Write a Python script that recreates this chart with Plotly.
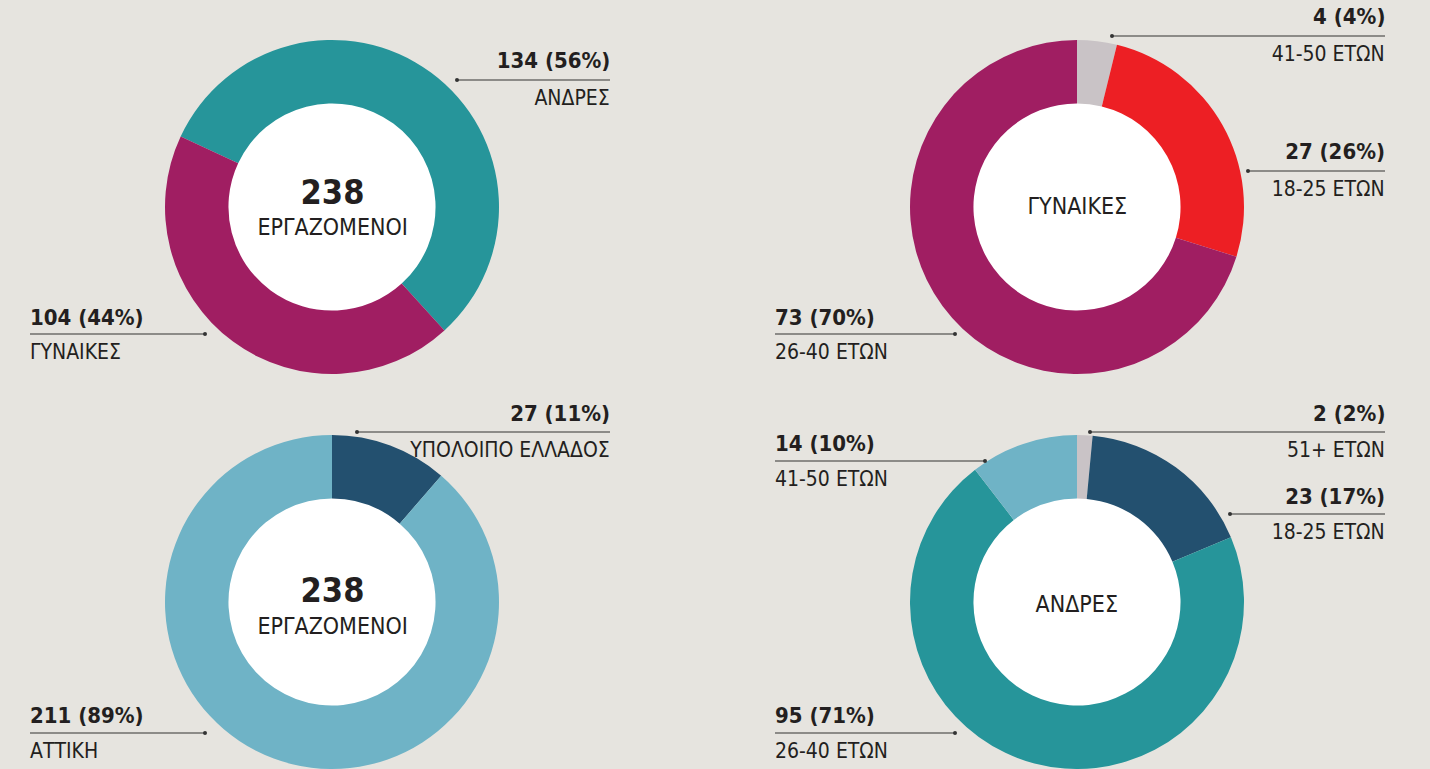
import plotly.graph_objects as go

W, H = 1430, 769
BG = "#e6e4df"
INK = "#231f20"
FONT = "DejaVu Sans, Roboto, sans-serif"

# --- data ---
total_labels = ["ΑΝΔΡΕΣ", "ΓΥΝΑΙΚΕΣ"]
total_values = [134, 104]
total_pct = [56, 44]

women_age_labels = ["41-50 ΕΤΩΝ", "18-25 ΕΤΩΝ", "26-40 ΕΤΩΝ"]
women_age_values = [4, 27, 73]
women_age_pct = [4, 26, 70]

region_labels = ["ΥΠΟΛΟΙΠΟ ΕΛΛΑΔΟΣ", "ΑΤΤΙΚΗ"]
region_values = [27, 211]
region_pct = [11, 89]

men_age_labels = ["51+ ΕΤΩΝ", "18-25 ΕΤΩΝ", "26-40 ΕΤΩΝ", "41-50 ΕΤΩΝ"]
men_age_values = [2, 23, 95, 14]
men_age_pct = [2, 17, 71, 10]

TEAL = "#26959a"
MAGENTA = "#a01e62"
RED = "#ed1f24"
GREY = "#c9c3c6"
NAVY = "#23506f"
LIGHTBLUE = "#6fb3c6"

R_OUT = 167
R_WHITE = 110
HOLE = 0.62


def px(x):
    return x / W


def py(y):
    return 1 - y / H


def domain(cx, cy, r):
    return dict(x=[px(cx - r), px(cx + r)], y=[py(cy + r), py(cy - r)])


# callout: (side, text x, number y, line y, dot x)
donuts = [
    dict(
        c=(332, 207), labels=total_labels, values=total_values, pct=total_pct,
        colors=[TEAL, MAGENTA], rotation=-65,
        callouts=[("right", 610, 61, 80, 457), ("left", 30, 317, 334, 205)],
        centre=[(f"<b>{sum(total_values)}</b>", 192, 34), ("ΕΡΓΑΖΟΜΕΝΟΙ", 227, 23)],
    ),
    dict(
        c=(1077, 207), labels=women_age_labels, values=women_age_values, pct=women_age_pct,
        colors=[GREY, RED, MAGENTA], rotation=0,
        callouts=[("right", 1385, 17, 36, 1112), ("right", 1385, 152, 171, 1248),
                  ("left", 775, 317, 334, 955)],
        centre=[("ΓΥΝΑΙΚΕΣ", 206, 23)],
    ),
    dict(
        c=(332, 602), labels=region_labels, values=region_values, pct=region_pct,
        colors=[NAVY, LIGHTBLUE], rotation=0,
        callouts=[("right", 610, 413, 432, 357), ("left", 30, 715, 733, 205)],
        centre=[(f"<b>{sum(region_values)}</b>", 590, 34), ("ΕΡΓΑΖΟΜΕΝΟΙ", 626, 23)],
    ),
    dict(
        c=(1077, 602), labels=men_age_labels, values=men_age_values, pct=men_age_pct,
        colors=[GREY, NAVY, TEAL, LIGHTBLUE], rotation=0,
        callouts=[("right", 1385, 413, 432, 1090), ("right", 1385, 496, 514, 1230),
                  ("left", 775, 715, 733, 955), ("left", 775, 443, 461, 985)],
        centre=[("ΑΝΔΡΕΣ", 604, 23)],
    ),
]

fig = go.Figure()
annotations = []
shapes = []

for d in donuts:
    cx, cy = d["c"]
    # white disc behind the hole
    fig.add_trace(
        go.Pie(
            values=[1],
            domain=domain(cx, cy, R_WHITE),
            marker=dict(colors=["#ffffff"], line=dict(width=0)),
            textinfo="none",
            hoverinfo="skip",
            showlegend=False,
            sort=False,
        )
    )
    fig.add_trace(
        go.Pie(
            labels=d["labels"],
            values=d["values"],
            domain=domain(cx, cy, R_OUT),
            hole=HOLE,
            sort=False,
            direction="clockwise",
            rotation=d["rotation"],
            marker=dict(colors=d["colors"], line=dict(width=0)),
            textinfo="none",
            showlegend=False,
        )
    )
    for i, (side, tx, ny, ly, dotx) in enumerate(d["callouts"]):
        ax = tx + 2 if side == "right" else tx - 2
        annotations.append(dict(
            x=px(ax), y=py(ny), xref="paper", yref="paper", xanchor=side, yanchor="middle",
            align=side, text=f"<b>{d['values'][i]} ({d['pct'][i]}%)</b>", showarrow=False,
            font=dict(size=22, color=INK, family=FONT),
        ))
        annotations.append(dict(
            x=px(ax), y=py(ly + 18), xref="paper", yref="paper", xanchor=side, yanchor="middle",
            align=side, text=d["labels"][i], showarrow=False,
            font=dict(size=21, color=INK, family=FONT),
        ))
        x0, x1 = (dotx, tx) if side == "right" else (tx, dotx)
        shapes.append(dict(type="line", xref="paper", yref="paper",
                           x0=px(x0), x1=px(x1), y0=py(ly), y1=py(ly),
                           line=dict(color="#333333", width=1.2)))
        shapes.append(dict(type="circle", xref="paper", yref="paper",
                           x0=px(dotx - 2), x1=px(dotx + 2), y0=py(ly - 2), y1=py(ly + 2),
                           fillcolor="#333333", line=dict(width=0)))
    for text, ty, size in d["centre"]:
        annotations.append(dict(
            x=px(cx), y=py(ty), xref="paper", yref="paper", xanchor="center", yanchor="middle",
            text=text, showarrow=False,
            font=dict(size=size, color=INK, family=FONT),
        ))

fig.update_layout(
    width=W,
    height=H,
    autosize=False,
    margin=dict(l=0, r=0, t=0, b=0),
    paper_bgcolor=BG,
    plot_bgcolor=BG,
    annotations=annotations,
    shapes=shapes,
    showlegend=False,
)

# page margin off and condensed face for all text
post = (
    "document.body.style.margin='0';"
    "var s=document.createElement('style');"
    "s.textContent='svg text{font-stretch:condensed !important;}';"
    "document.head.appendChild(s);"
)
fig.write_html("out.html", post_script=post, config={"displayModeBar": False})
